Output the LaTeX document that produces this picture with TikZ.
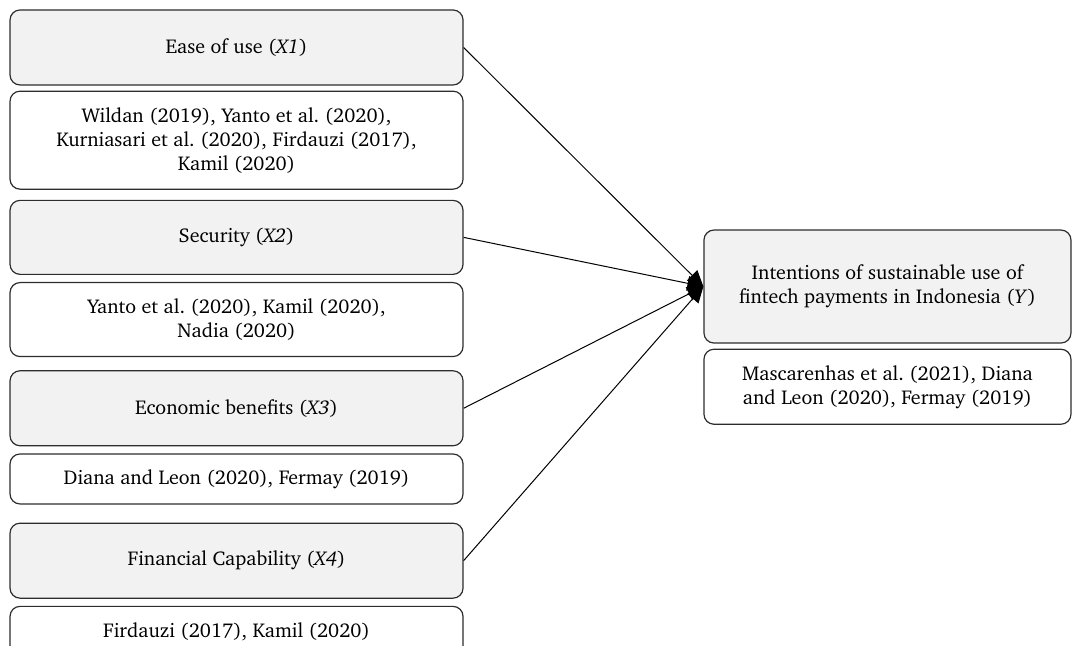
\documentclass[tikz,border=0pt]{standalone}
\usepackage[T1]{fontenc}
\usepackage{charter}
\usepackage{tikz}
\usetikzlibrary{arrows.meta,positioning}
\definecolor{boxline}{RGB}{45,45,45}
\definecolor{boxgray}{RGB}{242,242,242}
\frenchspacing

\begin{document}
\begin{tikzpicture}[>={Triangle[length=12pt,width=11pt]},
  every node/.style={font=\fontsize{15}{18}\selectfont,align=center},
  varbox/.style={draw=boxline,line width=0.9pt,rounded corners=7.5pt,fill=boxgray,minimum width=339.75pt,inner sep=0pt},
  refbox/.style={draw=boxline,line width=0.9pt,rounded corners=7.5pt,fill=white,minimum width=339.75pt,inner sep=0pt},
  link/.style={->,line width=0.75pt,black}]
  \clip (0,0) rectangle (804pt,-484.5pt);
  % left column: variables and their sources
  \node[varbox,minimum height=56.25pt] (x1) at (177.4pt,-35.6pt) {Ease of use (\textit{X1})};
  \node[refbox,minimum height=73.5pt,below=3.75pt of x1] (r1) {
    Wildan (2019), Yanto et al. (2020),\\
    Kurniasari et al. (2020), Firdauzi (2017),\\
    Kamil (2020)
  };
  \node[varbox,minimum height=55.5pt,below=7.5pt of r1] (x2) {Security (\textit{X2})};
  \node[refbox,minimum height=55.5pt,below=5.25pt of x2] (r2) {
    Yanto et al. (2020), Kamil (2020),\\
    Nadia (2020)
  };
  \node[varbox,minimum height=56.25pt,below=9.75pt of r2] (x3) {Economic benefits (\textit{X3})};
  \node[refbox,minimum height=37.5pt,below=5.25pt of x3] (r3) {Diana and Leon (2020), Fermay (2019)};
  \node[varbox,minimum height=56.25pt,below=13.5pt of r3] (x4) {Financial Capability (\textit{X4})};
  \node[refbox,minimum height=37.5pt,below=5.25pt of x4] (r4) {Firdauzi (2017), Kamil (2020)};
  % right column: dependent variable
  \node[varbox,minimum width=275.25pt,minimum height=84.75pt] (y) at (665.6pt,-214.9pt) {
    Intentions of sustainable use of\\
    fintech payments in Indonesia (\textit{Y})
  };
  \node[refbox,minimum width=275.25pt,minimum height=56.25pt,below=3.75pt of y] (ry) {
    Mascarenhas et al. (2021), Diana\\
    and Leon (2020), Fermay (2019)
  };
  \foreach \v in {x1,x2,x3,x4}
    \draw[link] (\v.east) -- (y.west);
\end{tikzpicture}
\end{document}
